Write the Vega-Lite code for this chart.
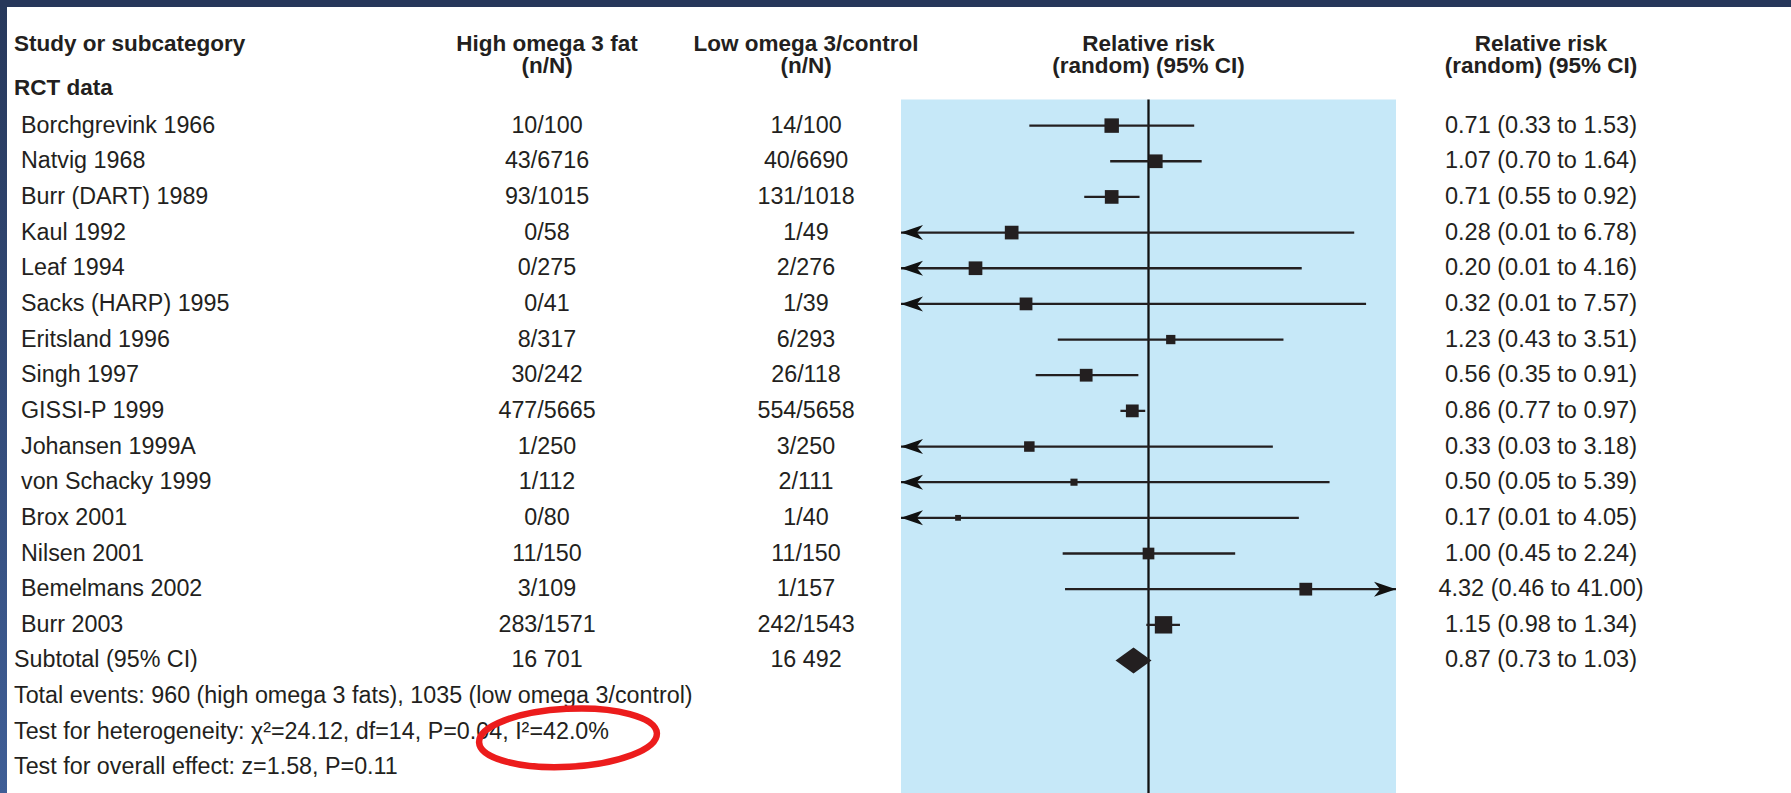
{
  "$schema": "https://vega.github.io/schema/vega-lite/v6.json",
  "background": "white",
  "padding": 0,
  "autosize": {"type": "pad"},
  "spacing": 0,
  "bounds": "flush",
  "config": {
    "view": {"stroke": null},
    "concat": {"spacing": 0},
    "text": {"font": "Liberation Sans, Arial, Helvetica, sans-serif", "fontSize": 23.3, "color": "#231f20", "baseline": "middle"}
  },
  "datasets": {
    "trials": [
      {"row": 0, "kind": "study", "name": "Borchgrevink 1966", "high": "10/100", "low": "14/100", "rr": 0.71, "lo": 0.33, "hi": 1.53, "weight": 8.7},
      {"row": 1, "kind": "study", "name": "Natvig 1968", "high": "43/6716", "low": "40/6690", "rr": 1.07, "lo": 0.70, "hi": 1.64, "weight": 7.8},
      {"row": 2, "kind": "study", "name": "Burr (DART) 1989", "high": "93/1015", "low": "131/1018", "rr": 0.71, "lo": 0.55, "hi": 0.92, "weight": 7.8},
      {"row": 3, "kind": "study", "name": "Kaul 1992", "high": "0/58", "low": "1/49", "rr": 0.28, "lo": 0.01, "hi": 6.78, "weight": 7.8},
      {"row": 4, "kind": "study", "name": "Leaf 1994", "high": "0/275", "low": "2/276", "rr": 0.20, "lo": 0.01, "hi": 4.16, "weight": 7.8},
      {"row": 5, "kind": "study", "name": "Sacks (HARP) 1995", "high": "0/41", "low": "1/39", "rr": 0.32, "lo": 0.01, "hi": 7.57, "weight": 6.8},
      {"row": 6, "kind": "study", "name": "Eritsland 1996", "high": "8/317", "low": "6/293", "rr": 1.23, "lo": 0.43, "hi": 3.51, "weight": 3.6},
      {"row": 7, "kind": "study", "name": "Singh 1997", "high": "30/242", "low": "26/118", "rr": 0.56, "lo": 0.35, "hi": 0.91, "weight": 6.8},
      {"row": 8, "kind": "study", "name": "GISSI-P 1999", "high": "477/5665", "low": "554/5658", "rr": 0.86, "lo": 0.77, "hi": 0.97, "weight": 6.8},
      {"row": 9, "kind": "study", "name": "Johansen 1999A", "high": "1/250", "low": "3/250", "rr": 0.33, "lo": 0.03, "hi": 3.18, "weight": 4.6},
      {"row": 10, "kind": "study", "name": "von Schacky 1999", "high": "1/112", "low": "2/111", "rr": 0.50, "lo": 0.05, "hi": 5.39, "weight": 2.1},
      {"row": 11, "kind": "study", "name": "Brox 2001", "high": "0/80", "low": "1/40", "rr": 0.17, "lo": 0.01, "hi": 4.05, "weight": 1.4},
      {"row": 12, "kind": "study", "name": "Nilsen 2001", "high": "11/150", "low": "11/150", "rr": 1.00, "lo": 0.45, "hi": 2.24, "weight": 5.7},
      {"row": 13, "kind": "study", "name": "Bemelmans 2002", "high": "3/109", "low": "1/157", "rr": 4.32, "lo": 0.46, "hi": 41.00, "weight": 6.8},
      {"row": 14, "kind": "study", "name": "Burr 2003", "high": "283/1571", "low": "242/1543", "rr": 1.15, "lo": 0.98, "hi": 1.34, "weight": 12.6},
      {"row": 15, "kind": "total", "name": "Subtotal (95% CI)", "high": "16 701", "low": "16 492", "rr": 0.87, "lo": 0.73, "hi": 1.03}
    ],
    "headings": [
      {"col": "study", "row": -2.3, "text": "Study or subcategory"},
      {"col": "study", "row": -1.05, "text": "RCT data"},
      {"col": "high", "row": -2.3, "text": "High omega 3 fat"},
      {"col": "high", "row": -1.66, "text": "(n/N)"},
      {"col": "low", "row": -2.3, "text": "Low omega 3/control"},
      {"col": "low", "row": -1.66, "text": "(n/N)"},
      {"col": "forest", "row": -2.3, "text": "Relative risk"},
      {"col": "forest", "row": -1.66, "text": "(random) (95% CI)"},
      {"col": "ci", "row": -2.3, "text": "Relative risk"},
      {"col": "ci", "row": -1.66, "text": "(random) (95% CI)"}
    ],
    "notes": [
      {"row": 16, "text": "Total events: 960 (high omega 3 fats), 1035 (low omega 3/control)", "circled": false},
      {"row": 17, "text": "Test for heterogeneity: χ²=24.12, df=14, P=0.04, I²=42.0%", "circled": true},
      {"row": 18, "text": "Test for overall effect: z=1.58, P=0.11", "circled": false}
    ],
    "panel": [{"region": "plot"}]
  },
  "vconcat": [
    {
      "width": 1791,
      "height": 7,
      "data": {"name": "panel"},
      "mark": {"type": "rect", "color": "#27375a"},
      "encoding": {}
    },
    {
      "spacing": 0,
      "bounds": "flush",
      "hconcat": [
        {
          "width": 7,
          "height": 786,
          "data": {"name": "panel"},
          "mark": {
            "type": "rect",
            "color": {"gradient": "linear", "x1": 0, "y1": 0, "x2": 0, "y2": 1,
              "stops": [{"offset": 0, "color": "#27385b"}, {"offset": 1, "color": "#3f5e96"}]}
          },
          "encoding": {}
        },
        {
          "width": 376,
          "height": 786,
          "encoding": {
            "y": {"field": "row", "type": "quantitative", "axis": null,
              "scale": {"domain": [-3.326, 18.716], "reverse": true, "nice": false, "zero": false}},
            "x": {"value": 0}
          },
          "layer": [
            {
              "data": {"name": "headings"},
              "transform": [{"filter": "datum.col == 'study'"}],
              "mark": {"type": "text", "align": "left", "dx": 7, "fontWeight": "bold", "fontSize": 22.5},
              "encoding": {"text": {"field": "text"}}
            },
            {
              "data": {"name": "trials"},
              "transform": [{"filter": "datum.kind == 'study'"}],
              "mark": {"type": "text", "align": "left", "dx": 14},
              "encoding": {"text": {"field": "name"}}
            },
            {
              "data": {"name": "trials"},
              "transform": [{"filter": "datum.kind == 'total'"}],
              "mark": {"type": "text", "align": "left", "dx": 7},
              "encoding": {"text": {"field": "name"}}
            },
            {
              "data": {"name": "notes"},
              "mark": {"type": "text", "align": "left", "dx": 7},
              "encoding": {"text": {"field": "text"}}
            }
          ]
        },
        {
          "width": 328,
          "height": 786,
          "encoding": {
            "y": {"field": "row", "type": "quantitative", "axis": null,
              "scale": {"domain": [-3.326, 18.716], "reverse": true, "nice": false, "zero": false}}
          },
          "layer": [
            {
              "data": {"name": "headings"},
              "transform": [{"filter": "datum.col == 'high'"}],
              "mark": {"type": "text", "align": "center", "fontWeight": "bold", "fontSize": 22.5},
              "encoding": {"text": {"field": "text"}}
            },
            {
              "data": {"name": "trials"},
              "mark": {"type": "text", "align": "center"},
              "encoding": {"text": {"field": "high"}}
            },
            {
              "data": {"name": "notes"},
              "transform": [{"filter": "datum.circled"}],
              "mark": {
                "type": "point",
                "shape": "M-1,0A1,0.326,0,1,0,1,0A1,0.326,0,1,0,-1,0Z",
                "size": 31684,
                "filled": false,
                "stroke": "#ec1c1c",
                "strokeWidth": 6.5,
                "opacity": 1,
                "angle": -3
              },
              "encoding": {"xOffset": {"value": 21}, "yOffset": {"value": 6}}
            }
          ]
        },
        {
          "width": 190,
          "height": 786,
          "encoding": {
            "y": {"field": "row", "type": "quantitative", "axis": null,
              "scale": {"domain": [-3.326, 18.716], "reverse": true, "nice": false, "zero": false}}
          },
          "layer": [
            {
              "data": {"name": "headings"},
              "transform": [{"filter": "datum.col == 'low'"}],
              "mark": {"type": "text", "align": "center", "fontWeight": "bold", "fontSize": 22.5},
              "encoding": {"text": {"field": "text"}}
            },
            {
              "data": {"name": "trials"},
              "mark": {"type": "text", "align": "center"},
              "encoding": {"text": {"field": "low"}}
            }
          ]
        },
        {
          "width": 495,
          "height": 786,
          "layer": [
            {
              "data": {"name": "panel"},
              "mark": {"type": "rect", "color": "#c6e8f8"},
              "encoding": {
                "x": {"datum": 0.1, "type": "quantitative", "axis": null,
                  "scale": {"type": "log", "domain": [0.1, 10], "clamp": true, "nice": false}},
                "x2": {"datum": 10},
                "y": {"datum": -0.735, "type": "quantitative", "axis": null,
                  "scale": {"domain": [-3.326, 18.716], "reverse": true, "nice": false, "zero": false}},
                "y2": {"datum": 18.716}
              }
            },
            {
              "data": {"name": "panel"},
              "mark": {"type": "rule", "color": "#111111", "strokeWidth": 2.3},
              "encoding": {
                "x": {"datum": 1, "type": "quantitative"},
                "y": {"datum": -0.735, "type": "quantitative"},
                "y2": {"datum": 18.716}
              }
            },
            {
              "data": {"name": "headings"},
              "transform": [{"filter": "datum.col == 'forest'"}],
              "mark": {"type": "text", "align": "center", "fontWeight": "bold", "fontSize": 22.5},
              "encoding": {
                "x": {"datum": 1, "type": "quantitative"},
                "y": {"field": "row", "type": "quantitative"},
                "text": {"field": "text"}
              }
            },
            {
              "data": {"name": "trials"},
              "transform": [{"filter": "datum.kind == 'study'"}],
              "mark": {"type": "rule", "color": "#231f20", "strokeWidth": 2.3},
              "encoding": {
                "x": {"field": "lo", "type": "quantitative"},
                "x2": {"field": "hi"},
                "y": {"field": "row", "type": "quantitative"}
              }
            },
            {
              "data": {"name": "trials"},
              "transform": [{"filter": "datum.kind == 'study'"}],
              "mark": {"type": "point", "shape": "square", "filled": true, "color": "#231f20", "opacity": 1},
              "encoding": {
                "x": {"field": "rr", "type": "quantitative"},
                "y": {"field": "row", "type": "quantitative"},
                "size": {"field": "weight", "type": "quantitative", "legend": null,
                  "scale": {"type": "linear", "domain": [0, 10], "range": [0, 240], "zero": true}}
              }
            },
            {
              "data": {"name": "trials"},
              "transform": [{"filter": "datum.lo < 0.1"}],
              "mark": {"type": "point", "shape": "M0,0L1,-0.34L0.72,0L1,0.34Z", "size": 1936, "filled": true, "color": "#111111", "opacity": 1},
              "encoding": {
                "x": {"field": "lo", "type": "quantitative"},
                "y": {"field": "row", "type": "quantitative"}
              }
            },
            {
              "data": {"name": "trials"},
              "transform": [{"filter": "datum.hi > 10"}],
              "mark": {"type": "point", "shape": "M0,0L-1,-0.34L-0.72,0L-1,0.34Z", "size": 1936, "filled": true, "color": "#111111", "opacity": 1},
              "encoding": {
                "x": {"field": "hi", "type": "quantitative"},
                "y": {"field": "row", "type": "quantitative"}
              }
            },
            {
              "data": {"name": "trials"},
              "transform": [{"filter": "datum.kind == 'total'"}],
              "mark": {"type": "point", "shape": "M-1,0L0,-0.72L1,0L0,0.72Z", "size": 1296, "filled": true, "color": "#231f20", "opacity": 1},
              "encoding": {
                "x": {"field": "rr", "type": "quantitative"},
                "y": {"field": "row", "type": "quantitative"}
              }
            }
          ]
        },
        {
          "width": 290,
          "height": 786,
          "encoding": {
            "y": {"field": "row", "type": "quantitative", "axis": null,
              "scale": {"domain": [-3.326, 18.716], "reverse": true, "nice": false, "zero": false}}
          },
          "layer": [
            {
              "data": {"name": "headings"},
              "transform": [{"filter": "datum.col == 'ci'"}],
              "mark": {"type": "text", "align": "center", "fontWeight": "bold", "fontSize": 22.5},
              "encoding": {"text": {"field": "text"}}
            },
            {
              "data": {"name": "trials"},
              "transform": [
                {"calculate": "format(datum.rr, '.2f') + ' (' + format(datum.lo, '.2f') + ' to ' + format(datum.hi, '.2f') + ')'", "as": "ci"}
              ],
              "mark": {"type": "text", "align": "center", "fontSize": 23.5},
              "encoding": {"text": {"field": "ci"}}
            }
          ]
        }
      ]
    }
  ]
}
